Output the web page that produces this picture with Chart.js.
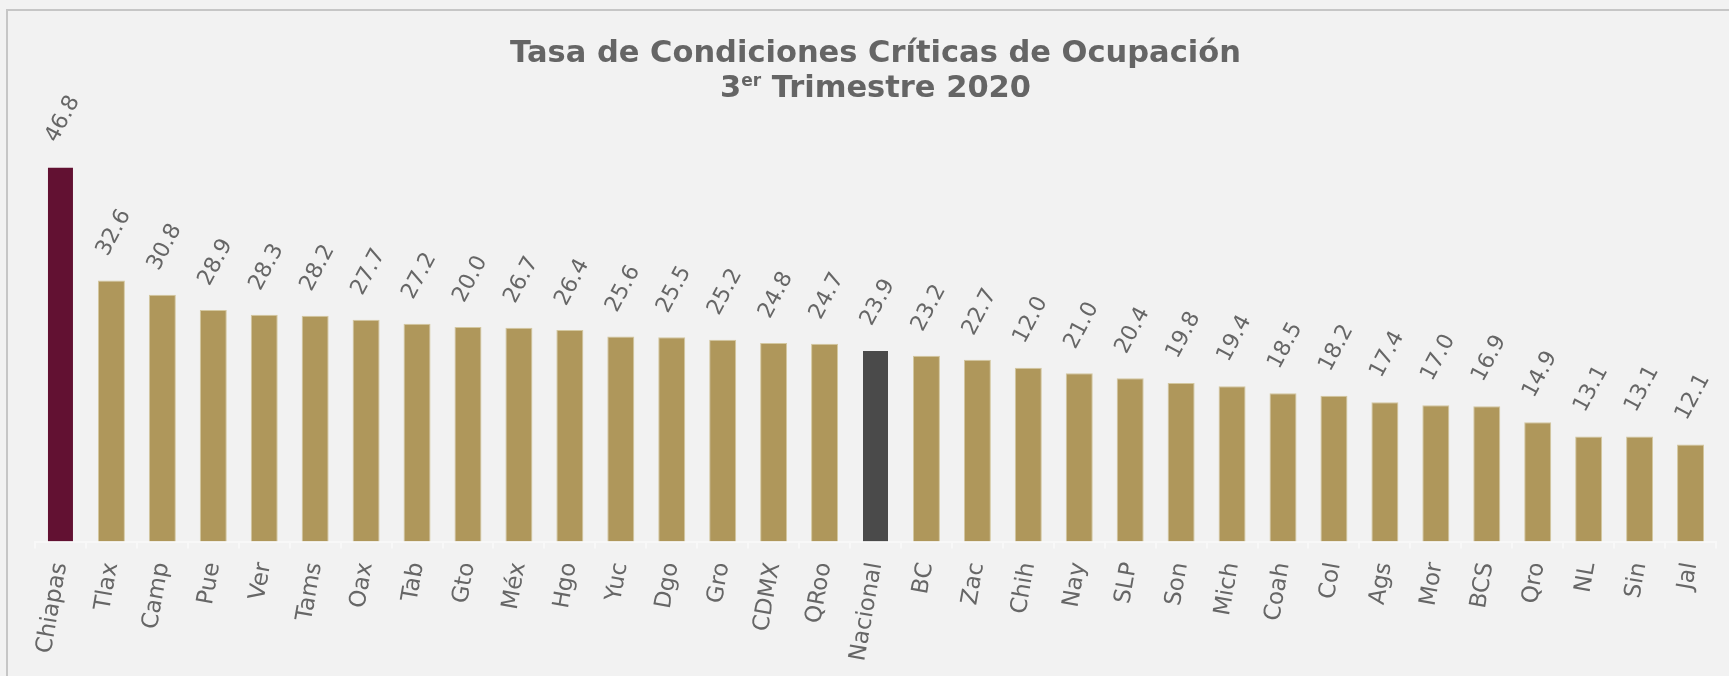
<!DOCTYPE html>
<html>
<head>
<meta charset="utf-8">
<script src="https://cdn.jsdelivr.net/npm/chart.js@4"></script>
<style>
  html, body { margin: 0; padding: 0; background: #f2f2f2; overflow: hidden; }
  #wrap { position: relative; width: 1729px; height: 676px; }
  #frame {
    position: absolute; left: 6px; top: 9px; width: 1800px; height: 800px;
    border-left: 2px solid #c6c6c6; border-top: 2px solid #c6c6c6;
  }
  #title {
    position: absolute; left: 35px; top: 34px; width: 1681px;
    text-align: center; color: #656565;
    font: bold 30.5px "DejaVu Sans", sans-serif; line-height: 35px;
  }
  #title sup { font-size: 17px; vertical-align: 11px; line-height: 0; }
  canvas { position: absolute; left: 0; top: 0; }
</style>
</head>
<body>
<div id="wrap">
  <div id="frame"></div>
  <canvas id="tccoChart" width="1729" height="676"></canvas>
  <div id="title">Tasa de Condiciones Críticas de Ocupación<br>3<sup>er</sup> Trimestre 2020</div>
</div>
<script>
const estados = ['Chiapas', 'Tlax', 'Camp', 'Pue', 'Ver', 'Tams', 'Oax', 'Tab', 'Gto', 'Méx', 'Hgo',
  'Yuc', 'Dgo', 'Gro', 'CDMX', 'QRoo', 'Nacional', 'BC', 'Zac', 'Chih', 'Nay', 'SLP', 'Son',
  'Mich', 'Coah', 'Col', 'Ags', 'Mor', 'BCS', 'Qro', 'NL', 'Sin', 'Jal'];

// bar heights as drawn
const tasas = [46.8, 32.6, 30.8, 28.9, 28.3, 28.2, 27.7, 27.2, 26.8, 26.7, 26.4,
  25.6, 25.5, 25.2, 24.8, 24.7, 23.9, 23.2, 22.7, 21.7, 21.0, 20.4, 19.8,
  19.4, 18.5, 18.2, 17.4, 17.0, 16.9, 14.9, 13.1, 13.1, 12.1];

// numbers printed above the bars (as they appear)
const etiquetas = ['46.8', '32.6', '30.8', '28.9', '28.3', '28.2', '27.7', '27.2', '20.0', '26.7', '26.4',
  '25.6', '25.5', '25.2', '24.8', '24.7', '23.9', '23.2', '22.7', '12.0', '21.0', '20.4', '19.8',
  '19.4', '18.5', '18.2', '17.4', '17.0', '16.9', '14.9', '13.1', '13.1', '12.1'];

const yTicks = [0, 60];

const GOLD = '#af975b';
const colores = estados.map(e => e === 'Chiapas' ? '#621132' : e === 'Nacional' ? '#4a4a4a' : GOLD);
const bordes = estados.map(e => (e === 'Chiapas' || e === 'Nacional') ? 'rgba(0,0,0,0)' : '#d3c79f');

const valueLabels = {
  id: 'valueLabels',
  afterDatasetsDraw(chart) {
    const ctx = chart.ctx;
    const meta = chart.getDatasetMeta(0);
    ctx.save();
    ctx.font = '22px "DejaVu Sans", sans-serif';
    ctx.fillStyle = '#666666';
    ctx.textAlign = 'left';
    ctx.textBaseline = 'middle';
    meta.data.forEach((bar, i) => {
      ctx.save();
      ctx.translate(bar.x - 9, bar.y - 26);
      ctx.rotate(-62 * Math.PI / 180);
      ctx.fillText(etiquetas[i], 0, 0);
      ctx.restore();
    });
    ctx.restore();
  }
};

new Chart(document.getElementById('tccoChart'), {
  type: 'bar',
  data: {
    labels: estados,
    datasets: [{
      data: tasas,
      backgroundColor: colores,
      borderColor: bordes,
      borderWidth: 1,
      barPercentage: 0.53,
      categoryPercentage: 1,
    }],
  },
  options: {
    responsive: false,
    animation: false,
    layout: { padding: { top: 61, left: 35, right: 13, bottom: 0 } },
    plugins: {
      legend: { display: false },
      tooltip: { enabled: false },
    },
    scales: {
      x: {
        grid: { drawOnChartArea: false, drawTicks: true, tickLength: 7, color: '#f8f8f8', lineWidth: 2 },
        border: { display: true, color: '#f8f8f8', width: 2 },
        ticks: {
          color: '#666666',
          font: { family: '"DejaVu Sans", sans-serif', size: 23 },
          minRotation: 80,
          maxRotation: 80,
          autoSkip: false,
          padding: 12,
        },
        afterFit(scale) {
          scale.height = 676 - 541.5;
          scale.paddingLeft = 0;
          scale.paddingRight = 0;
        },
      },
      y: {
        display: false,
        min: yTicks[0],
        max: yTicks[1],
      },
    },
  },
  plugins: [valueLabels],
});
</script>
</body>
</html>
